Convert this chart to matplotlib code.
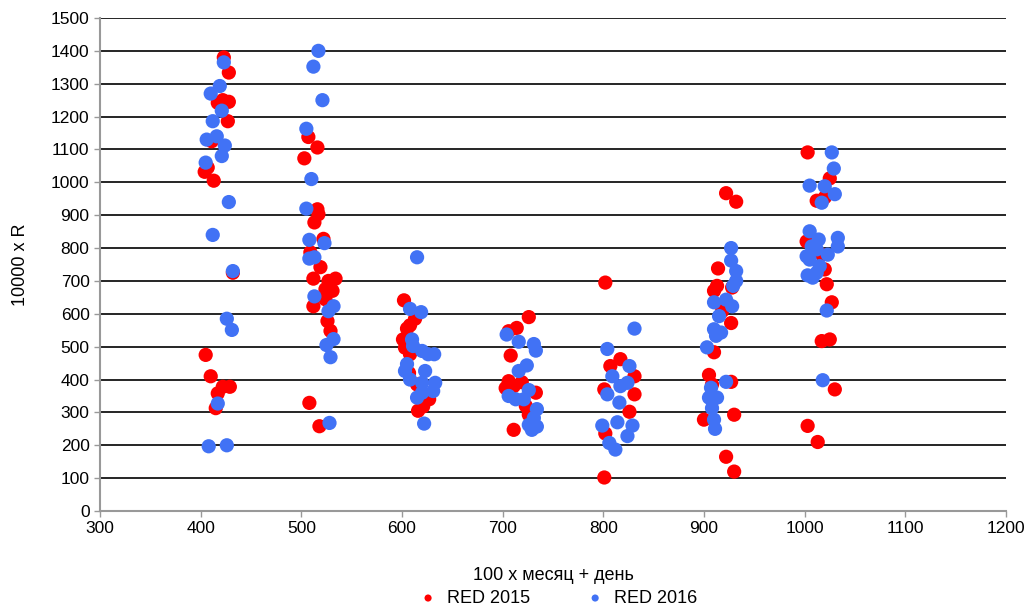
import matplotlib
matplotlib.use("Agg")
import matplotlib.pyplot as plt

plt.rcParams['font.family'] = ['Liberation Sans', 'DejaVu Sans']

red_x = [423, 428, 422, 428, 417, 427, 411, 404, 407, 413, 432, 405, 410, 422, 429, 417, 415,
         507, 516, 503, 516, 517, 513, 522, 509, 519, 512, 534, 527, 524, 531, 524, 512, 526, 529, 508, 518,
         602, 613, 608, 605, 601, 603, 608, 607, 615, 627, 616, 621,
         726, 714, 706, 708, 706, 719, 703, 711, 733, 723, 726, 711,
         802, 817, 807, 831, 801, 831, 826, 802, 801,
         922, 932, 914, 913, 910, 928, 918, 927, 910, 905, 908, 927, 900, 930, 922, 930,
         1003, 1025, 1012, 1020, 1002, 1017, 1020, 1022, 1027, 1017, 1025, 1030, 1003, 1013]
red_y = [1380, 1334, 1250, 1245, 1242, 1186, 1125, 1032, 1045, 1005, 725, 475, 410, 378, 378, 358, 313,
         1138, 1106, 1073, 918, 903, 878, 828, 787, 742, 707, 707, 700, 675, 670, 644, 623, 578, 548, 329, 258,
         641, 585, 565, 555, 522, 497, 477, 420, 385, 340, 305, 318,
         590, 557, 547, 473, 395, 392, 374, 380, 360, 320, 293, 247,
         695, 462, 441, 410, 370, 355, 302, 236, 102,
         967, 941, 738, 685, 670, 680, 608, 572, 483, 414, 385, 393, 278, 293, 165, 120,
         1091, 1012, 944, 954, 820, 780, 735, 690, 635, 517, 522, 370, 259, 210]

blue_x = [423, 419, 410, 421, 412, 416, 406, 424, 421, 405, 428, 412, 432, 426, 431, 417, 408, 426,
          517, 512, 521, 505, 510, 505, 508, 523, 513, 508, 513, 532, 527, 532, 525, 529, 528,
          615, 608, 619, 610, 611, 620, 632, 626, 605, 603, 623, 608, 620, 633, 631, 615, 620, 622,
          704, 716, 731, 733, 724, 716, 726, 706, 713, 721, 734, 731, 726, 734, 729,
          831, 804, 826, 809, 804, 817, 824, 816, 799, 814, 829, 824, 806, 812,
          927, 927, 932, 932, 929, 910, 922, 928, 915, 910, 917, 912, 903, 907, 922, 905, 913, 908, 910, 911,
          1027, 1029, 1005, 1020, 1030, 1017, 1005, 1014, 1033, 1033, 1007, 1023, 1002, 1012, 1005, 1015,
          1003, 1008, 1012, 1022, 1018]
blue_y = [1365, 1293, 1270, 1218, 1186, 1140, 1130, 1112, 1080, 1060, 940, 840, 730, 585, 551, 327, 197, 200,
          1400, 1352, 1250, 1163, 1010, 920, 825, 815, 772, 768, 653, 623, 608, 523, 505, 468, 268,
          772, 615, 605, 522, 502, 487, 477, 477, 447, 426, 426, 400, 390, 390, 365, 345, 360, 266,
          537, 515, 508, 488, 443, 426, 368, 350, 340, 340, 310, 283, 262, 257, 247,
          555, 493, 441, 410, 355, 380, 390, 330, 260, 270, 260, 228, 207, 187,
          800, 762, 730, 700, 685, 635, 643, 623, 593, 553, 543, 533, 498, 375, 393, 345, 345, 313, 278, 250,
          1091, 1042, 990, 988, 964, 938, 851, 826, 831, 805, 805, 780, 775, 796, 765, 745,
          717, 710, 725, 610, 398]

fig = plt.figure(figsize=(10.33, 6.12), dpi=100)
ax = fig.add_axes([0.0968, 0.165, 0.877, 0.8056])

ax.scatter(red_x, red_y, s=105, color='#FF0000', edgecolors='none', label='RED 2015', zorder=3)
ax.scatter(blue_x, blue_y, s=105, color='#4172F5', edgecolors='none', label='RED 2016', zorder=3)

ax.set_xlim(300, 1200)
ax.set_ylim(0, 1500)
ax.set_xticks(range(300, 1201, 100))
ax.set_yticks(range(0, 1501, 100))
ax.yaxis.grid(True, color='black', linewidth=1.2)
ax.set_axisbelow(True)
for s in ['top', 'right']:
    ax.spines[s].set_visible(False)
for s in ['left', 'bottom']:
    ax.spines[s].set_color('#999999')
    ax.spines[s].set_linewidth(1.5)
ax.tick_params(axis='both', labelsize=12.5, colors='#999999', labelcolor='black', length=4, width=1)

ax.set_xlabel('100 x месяц + день', fontsize=13, labelpad=22)
ax.set_ylabel('10000 x R', fontsize=13, labelpad=16)

leg = fig.legend(loc='lower center', bbox_to_anchor=(0.536, -0.018), ncol=2, frameon=False,
                 fontsize=13, markerscale=0.5, handletextpad=0.05, columnspacing=2.6)

fig.savefig('out.png', dpi=100)
